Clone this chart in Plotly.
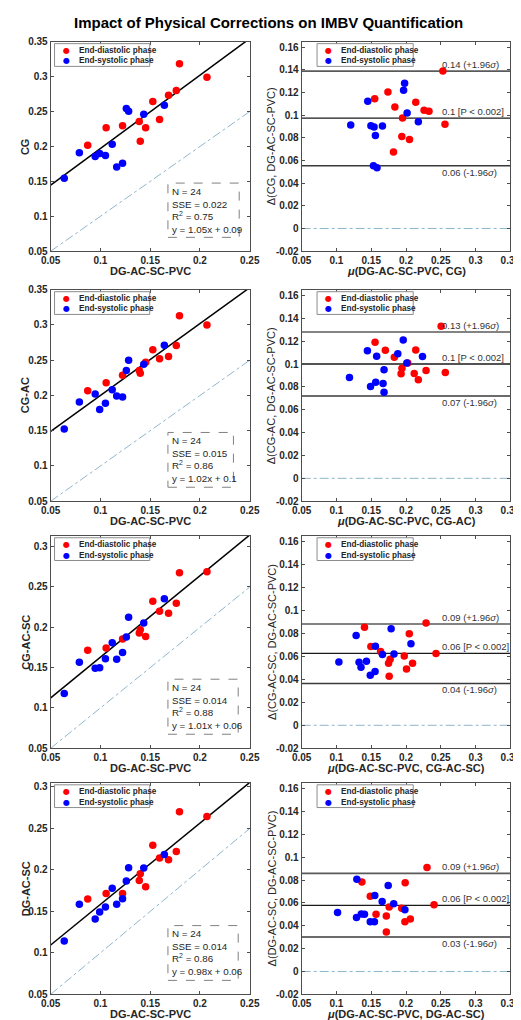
import plotly.graph_objects as go

FONT = "Liberation Sans, Arial, Helvetica, sans-serif"
W, H = 521, 1020

# ---------------- data ----------------
# shared reference values (DG-AC-SC-PVC), x of the left-hand scatter panels
x_dg_red = [0.1794, 0.207, 0.1762, 0.1684, 0.1526, 0.1594, 0.139, 0.1454, 0.1222, 0.1057, 0.140, 0.0872]
x_dg_blue = [0.1642, 0.1435, 0.126, 0.1283, 0.1118, 0.105, 0.0992, 0.0947, 0.0788, 0.1163, 0.1222, 0.0636]

# y of the left-hand scatter panels
y_cg_red = [0.3185, 0.2992, 0.2799, 0.2733, 0.2643, 0.2384, 0.2356, 0.2267, 0.2295, 0.2267, 0.2073, 0.2017]
y_cg_blue = [0.2591, 0.246, 0.2544, 0.2502, 0.2031, 0.1871, 0.1899, 0.1857, 0.1909, 0.1706, 0.1758, 0.1546]
y_cgac_red = [0.313, 0.2999, 0.2709, 0.2554, 0.2648, 0.2522, 0.2353, 0.247, 0.2287, 0.218, 0.2316, 0.2067]
y_cgac_blue = [0.2713, 0.2442, 0.2353, 0.2498, 0.2081, 0.189, 0.180, 0.2021, 0.1908, 0.1993, 0.1978, 0.1524]
y_cgacsc_red = [0.2677, 0.269, 0.2297, 0.2175, 0.2322, 0.220, 0.193, 0.1885, 0.1856, 0.1742, 0.1971, 0.1717]
y_cgacsc_blue = [0.2355, 0.2052, 0.1881, 0.2126, 0.1807, 0.1611, 0.1497, 0.1493, 0.1566, 0.1603, 0.1689, 0.1178]
y_dgacsc_red = [0.2701, 0.2645, 0.2222, 0.2123, 0.2298, 0.2143, 0.1872, 0.1796, 0.1716, 0.1716, 0.1955, 0.1648]
y_dgacsc_blue = [0.2187, 0.2023, 0.1868, 0.2027, 0.178, 0.1553, 0.1493, 0.1409, 0.1585, 0.1585, 0.1652, 0.1142]

# Bland-Altman panels: mean (mu) and difference (delta)
ba1_mu_red = [0.253, 0.256, 0.174, 0.155, 0.184, 0.214, 0.226, 0.233, 0.195, 0.194, 0.205, 0.182]
ba1_d_red = [0.139, 0.092, 0.1205, 0.1145, 0.1073, 0.1116, 0.1044, 0.1035, 0.0975, 0.0813, 0.0787, 0.0675]
ba1_mu_blue = [0.198, 0.1965, 0.145, 0.2016, 0.2177, 0.1205, 0.1495, 0.1541, 0.1661, 0.156, 0.1532, 0.1583]
ba1_d_blue = [0.1283, 0.122, 0.1124, 0.1021, 0.0943, 0.0914, 0.0908, 0.0897, 0.0905, 0.0822, 0.0554, 0.0537]

ba2_mu_red = [0.2505, 0.1555, 0.1703, 0.214, 0.1832, 0.2025, 0.1942, 0.1929, 0.2118, 0.2288, 0.2565, 0.2177]
ba2_d_red = [0.1331, 0.1191, 0.112, 0.1123, 0.106, 0.1009, 0.0963, 0.0914, 0.0917, 0.0943, 0.0926, 0.0863]
ba2_mu_blue = [0.196, 0.1445, 0.1882, 0.1578, 0.2237, 0.2012, 0.1684, 0.1187, 0.1564, 0.149, 0.167, 0.1684]
ba2_d_blue = [0.1211, 0.1117, 0.1089, 0.1069, 0.1066, 0.1009, 0.0951, 0.0883, 0.084, 0.0803, 0.0829, 0.0754]

ba3_mu_red = [0.2288, 0.1403, 0.2047, 0.1495, 0.1634, 0.2431, 0.1975, 0.1772, 0.1749, 0.2094, 0.2007, 0.1758]
ba3_d_red = [0.089, 0.0853, 0.0798, 0.0686, 0.0643, 0.0626, 0.0603, 0.0574, 0.054, 0.054, 0.0491, 0.0428]
ba3_mu_blue = [0.1786, 0.1283, 0.2071, 0.156, 0.1661, 0.1827, 0.1035, 0.1325, 0.1431, 0.1353, 0.1555, 0.1486]
ba3_d_blue = [0.0841, 0.0781, 0.0709, 0.0689, 0.0617, 0.062, 0.0551, 0.0548, 0.0557, 0.0505, 0.0468, 0.0436]

ba4_mu_red = [0.2302, 0.1366, 0.1988, 0.1486, 0.2403, 0.1758, 0.1938, 0.1569, 0.1717, 0.2062, 0.1984, 0.1717]
ba4_d_red = [0.091, 0.0783, 0.0777, 0.0659, 0.0584, 0.0564, 0.0552, 0.050, 0.0486, 0.046, 0.0434, 0.0345]
ba4_mu_blue = [0.1293, 0.1744, 0.1551, 0.1657, 0.1823, 0.1984, 0.1016, 0.1357, 0.1403, 0.1288, 0.1486, 0.1546]
ba4_d_blue = [0.0806, 0.0752, 0.0665, 0.0613, 0.0593, 0.0541, 0.0515, 0.0503, 0.050, 0.0472, 0.0434, 0.0434]

# method names
methods = ["CG", "CG-AC", "CG-AC-SC", "DG-AC-SC"]
reference = "DG-AC-SC-PVC"
phase_names = ["End-diastolic phase", "End-systolic phase"]

# regression results
fit_slope = [1.05, 1.02, 1.01, 0.98]
fit_intercept = [0.092, 0.098, 0.062, 0.0605]
n_subjects = [24, 24, 24, 24]
sse_text = ["0.022", "0.015", "0.014", "0.014"]
r2_text = ["0.75", "0.86", "0.88", "0.86"]
eq_text = ["y = 1.05x + 0.09", "y = 1.02x + 0.1", "y = 1.01x + 0.06", "y = 0.98x + 0.06"]

# Bland-Altman lines
ba_upper = [0.139, 0.128, 0.0882, 0.0858]
ba_mean = [0.0975, 0.100, 0.0626, 0.0578]
ba_lower = [0.0554, 0.072, 0.0364, 0.0301]
ba_upper_lbl = ["0.14", "0.13", "0.09", "0.09"]
ba_mean_lbl = ["0.1", "0.1", "0.06", "0.06"]
ba_lower_lbl = ["0.06", "0.07", "0.04", "0.03"]

# axes
left_xrange = [0.05, 0.25]
left_ymax = [0.35, 0.35, 0.3135, 0.305]
left_xticks = [0.05, 0.1, 0.15, 0.2, 0.25]
left_yticks_full = [0.05, 0.1, 0.15, 0.2, 0.25, 0.3, 0.35]
right_xrange = [0.05, 0.35]
right_yrange = [-0.02, 0.165]
right_xticks = [0.05, 0.1, 0.15, 0.2, 0.25, 0.3, 0.35]
right_yticks = [-0.02, 0, 0.02, 0.04, 0.06, 0.08, 0.1, 0.12, 0.14, 0.16]

left_y_red = [y_cg_red, y_cgac_red, y_cgacsc_red, y_dgacsc_red]
left_y_blue = [y_cg_blue, y_cgac_blue, y_cgacsc_blue, y_dgacsc_blue]
ba_mu_red = [ba1_mu_red, ba2_mu_red, ba3_mu_red, ba4_mu_red]
ba_d_red = [ba1_d_red, ba2_d_red, ba3_d_red, ba4_d_red]
ba_mu_blue = [ba1_mu_blue, ba2_mu_blue, ba3_mu_blue, ba4_mu_blue]
ba_d_blue = [ba1_d_blue, ba2_d_blue, ba3_d_blue, ba4_d_blue]

# ---------------- styling / layout ----------------
RED, BLUE = "#ff0000", "#0000ff"
AXC = "#4d4d4d"
TXT = "#262626"
IDC = "#8fb6cc"

LEFT_PX = (34, 241)
RIGHT_PX = (295, 512)
ROWS_PX = [(28, 240), (279, 493), (528, 743), (778, 992)]


def px_x(p):
    return p / W


def px_y(p):
    return 1 - p / H


def fmt(v):
    s = ("%.2f" % v).rstrip("0").rstrip(".")
    return "0" if s in ("-0", "") else s


def sfx(i):
    return "" if i == 1 else str(i)


def axis(domain, rng, ticks, anchor):
    return dict(
        domain=domain, range=rng, anchor=anchor,
        tickmode="array", tickvals=ticks, ticktext=[fmt(t) for t in ticks],
        showline=True, linecolor=AXC, linewidth=1, mirror="ticks",
        ticks="inside", ticklen=3, tickcolor=AXC, tickwidth=1,
        showgrid=False, zeroline=False, fixedrange=True,
        tickfont=dict(family=FONT, size=10, color=TXT, weight="bold"),
    )


fig = go.Figure()
layout = {}
shapes = []
annotations = []

for r in range(4):
    top, bot = ROWS_PX[r]
    ydom = [px_y(bot), px_y(top)]
    il, ir = 2 * r + 1, 2 * r + 2
    xl, yl = "x" + sfx(il), "y" + sfx(il)
    xr, yr = "x" + sfx(ir), "y" + sfx(ir)

    lyticks = [t for t in left_yticks_full if t <= left_ymax[r] + 1e-9]
    layout["xaxis" + sfx(il)] = axis([px_x(LEFT_PX[0]), px_x(LEFT_PX[1])], left_xrange, left_xticks, yl)
    layout["yaxis" + sfx(il)] = axis(ydom, [0.05, left_ymax[r]], lyticks, xl)
    layout["xaxis" + sfx(ir)] = axis([px_x(RIGHT_PX[0]), px_x(RIGHT_PX[1])], right_xrange, right_xticks, yr)
    layout["yaxis" + sfx(ir)] = axis(ydom, right_yrange, right_yticks, xr)

    # ---- left: scatter + identity + fit ----
    fig.add_trace(go.Scatter(x=left_xrange, y=left_xrange, mode="lines", xaxis=xl, yaxis=yl,
                             line=dict(color=IDC, width=1, dash="dashdot"), hoverinfo="skip"))
    fig.add_trace(go.Scatter(x=left_xrange, y=[fit_slope[r] * v + fit_intercept[r] for v in left_xrange],
                             mode="lines", xaxis=xl, yaxis=yl, line=dict(color="black", width=1.5),
                             hoverinfo="skip"))
    fig.add_trace(go.Scatter(x=x_dg_red, y=left_y_red[r], mode="markers", xaxis=xl, yaxis=yl,
                             name=phase_names[0], marker=dict(color=RED, size=7.5, line=dict(width=0))))
    fig.add_trace(go.Scatter(x=x_dg_blue, y=left_y_blue[r], mode="markers", xaxis=xl, yaxis=yl,
                             name=phase_names[1], marker=dict(color=BLUE, size=7.5, line=dict(width=0))))

    # ---- right: Bland-Altman ----
    fig.add_trace(go.Scatter(x=ba_mu_red[r], y=ba_d_red[r], mode="markers", xaxis=xr, yaxis=yr,
                             name=phase_names[0], marker=dict(color=RED, size=7.5, line=dict(width=0))))
    fig.add_trace(go.Scatter(x=ba_mu_blue[r], y=ba_d_blue[r], mode="markers", xaxis=xr, yaxis=yr,
                             name=phase_names[1], marker=dict(color=BLUE, size=7.5, line=dict(width=0))))

    shapes.append(dict(type="line", xref=f"{xr} domain", yref=yr, x0=0, x1=1, y0=0, y1=0,
                       line=dict(color=IDC, width=1, dash="dashdot"), layer="below"))
    for val, col, wd in ((ba_upper[r], "#5a5a5a", 1.6), (ba_mean[r], "#1a1a1a", 1.3),
                         (ba_lower[r], "#3a3a3a", 1.5)):
        shapes.append(dict(type="line", xref=f"{xr} domain", yref=yr, x0=0, x1=1, y0=val, y1=val,
                           line=dict(color=col, width=wd), layer="below"))

    lbl_font = dict(family=FONT, size=9.5, color="#333333")
    annotations.append(dict(xref=xr, yref=yr, x=0.25, y=ba_upper[r], xanchor="left", yanchor="bottom",
                            text=f"{ba_upper_lbl[r]} (+1.96<i>σ</i>)", showarrow=False, font=lbl_font,
                            borderpad=0))
    annotations.append(dict(xref=xr, yref=yr, x=0.25, y=ba_mean[r], xanchor="left", yanchor="bottom",
                            text=f"{ba_mean_lbl[r]} [P &lt; 0.002]", showarrow=False, font=lbl_font,
                            borderpad=0))
    annotations.append(dict(xref=xr, yref=yr, x=0.25, y=ba_lower[r], xanchor="left", yanchor="top",
                            text=f"{ba_lower_lbl[r]} (-1.96<i>σ</i>)", showarrow=False, font=lbl_font,
                            borderpad=0))

    # ---- legend boxes (one per panel) ----
    hgt = bot - top
    for xa, ya, pw, box, dotx, txtx in ((xl, yl, LEFT_PX[1] - LEFT_PX[0], (4, 103), 16, 27),
                                        (xr, yr, RIGHT_PX[1] - RIGHT_PX[0], (16, 116), 28, 39)):
        shapes.append(dict(type="rect", xref=f"{xa} domain", yref=f"{ya} domain",
                           x0=box[0] / pw, x1=box[1] / pw, y0=1 - 25 / hgt, y1=1 - 2 / hgt,
                           line=dict(color="#8c8c8c", width=1), fillcolor="white", layer="above"))
        for k, (col, nm) in enumerate(((RED, phase_names[0]), (BLUE, phase_names[1]))):
            yy = 1 - (8.5 + 11 * k) / hgt
            annotations.append(dict(xref=f"{xa} domain", yref=f"{ya} domain",
                                    x=dotx / pw, y=yy, xanchor="center", yanchor="middle",
                                    text="●", showarrow=False,
                                    font=dict(family="DejaVu Sans", size=8, color=col)))
            annotations.append(dict(xref=f"{xa} domain", yref=f"{ya} domain",
                                    x=txtx / pw, y=yy, xanchor="left", yanchor="middle",
                                    text=nm, showarrow=False,
                                    font=dict(family=FONT, size=8.2, color=TXT, weight="bold")))

    # ---- stats box ----
    box_right = [0.947, 0.918, 0.942, 0.942][r]
    shapes.append(dict(type="rect", xref=f"{xl} domain", yref=f"{yl} domain",
                       x0=0.589, x1=box_right, y0=0.066, y1=0.325,
                       line=dict(color="#808080", width=1, dash="dash"), layer="above"))
    annotations.append(dict(xref=f"{xl} domain", yref=f"{yl} domain", x=0.597, y=0.1955,
                            xanchor="left", yanchor="middle", align="left", showarrow=False,
                            text=(f"N = {n_subjects[r]}<br>SSE = {sse_text[r]}<br>"
                                  f"R<sup>2</sup> = {r2_text[r]}<br>{eq_text[r]}"),
                            font=dict(family=FONT, size=9.8, color=TXT)))

    # ---- axis titles ----
    ymid = px_y((top + bot) / 2)
    annotations.append(dict(xref="paper", yref="paper", x=px_x(8), y=ymid, textangle=-90,
                            xanchor="center", yanchor="middle", showarrow=False, text=methods[r],
                            font=dict(family=FONT, size=11, color=TXT, weight="bold")))
    annotations.append(dict(xref="paper", yref="paper", x=px_x(264), y=ymid, textangle=-90,
                            xanchor="center", yanchor="middle", showarrow=False,
                            text=f"Δ({methods[r]}, {reference})",
                            font=dict(family=FONT, size=11, color=TXT)))
    annotations.append(dict(xref="paper", yref="paper", x=px_x(sum(LEFT_PX) / 2), y=px_y(bot + 20),
                            xanchor="center", yanchor="middle", showarrow=False, text=reference,
                            font=dict(family=FONT, size=11, color=TXT, weight="bold")))
    annotations.append(dict(xref="paper", yref="paper", x=px_x(sum(RIGHT_PX) / 2), y=px_y(bot + 20),
                            xanchor="center", yanchor="middle", showarrow=False,
                            text=f"<i>μ</i>({reference}, {methods[r]})",
                            font=dict(family=FONT, size=11, color=TXT, weight="bold")))

annotations.append(dict(xref="paper", yref="paper", x=0.5, y=px_y(9), xanchor="center", yanchor="middle",
                        showarrow=False, text="Impact of Physical Corrections on IMBV Quantification",
                        font=dict(family=FONT, size=15, color="black", weight="bold")))

fig.update_layout(
    width=W, height=H, margin=dict(l=0, r=0, t=0, b=0),
    paper_bgcolor="white", plot_bgcolor="white", showlegend=False,
    shapes=shapes, annotations=annotations, **layout,
)

fig.write_html("out.html")
